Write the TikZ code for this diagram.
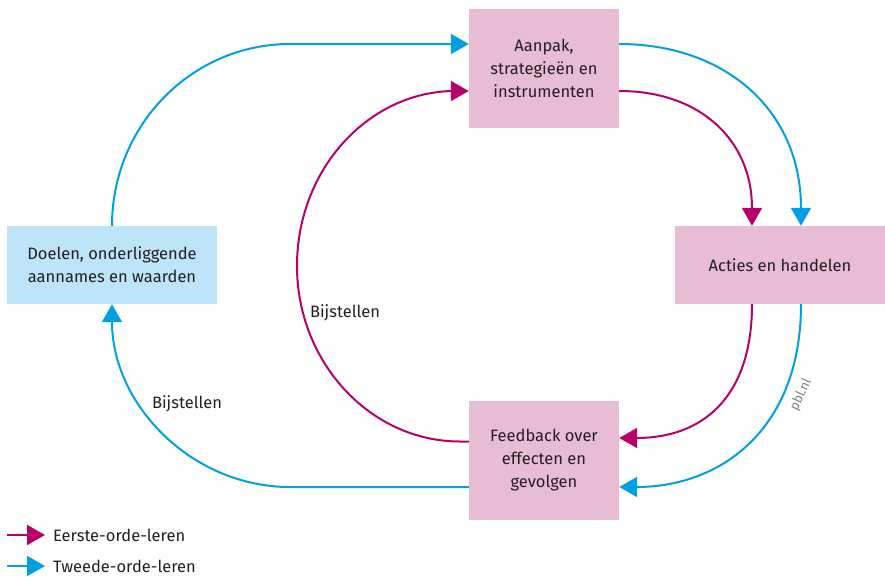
\documentclass[tikz,border=0pt]{standalone}
\usepackage{fontspec}
\setmainfont{Fira Sans}
\usetikzlibrary{arrows.meta}
\definecolor{boxpink}{HTML}{E8BCD3}
\definecolor{boxblue}{HTML}{BEE4F9}
\definecolor{lred}{HTML}{B8006B}
\definecolor{lblue}{HTML}{00A0E2}
\definecolor{txt}{HTML}{231F20}
\begin{document}
\begin{tikzpicture}[x=1pt,y=-1pt,
  box/.style={inner sep=0pt, align=center, text=txt, font=\fontsize{16.5}{23}\selectfont},
  pinkbox/.style={box, fill=boxpink, minimum width=150pt, minimum height=119pt},
  widebox/.style={box, minimum width=210pt, minimum height=78pt},
  lbl/.style={text=txt, inner sep=0pt, font=\fontsize{16.5}{18}\selectfont},
  first/.style={draw=lred, line width=2pt, -{Triangle[length=18pt,width=20pt]}},
  second/.style={draw=lblue, line width=2pt, -{Triangle[length=18pt,width=20pt]}}]
\useasboundingbox (0,0) rectangle (885,576);

\node[pinkbox] (aanpak) at (544,68.5) {Aanpak,\\strategieën en\\instrumenten};
\node[widebox, fill=boxpink] (acties) at (780,265) {Acties en handelen};
\node[pinkbox] (feedback) at (544,460.5) {Feedback over\\effecten en\\gevolgen};
\node[widebox, fill=boxblue] (doelen) at (112,265) {Doelen, onderliggende\\aannames en waarden};

% second order (blue)
\draw[second] (doelen.north) .. controls (112,125) and (192,44) .. (290,44) -- ([yshift=24.5pt]aanpak.west);
\draw[second] ([yshift=24.5pt]aanpak.east) .. controls (725,44) and (801,110) .. ([xshift=21pt]acties.north);
\draw[second] ([xshift=21pt]acties.south) .. controls (801,430) and (720,487) .. ([yshift=-26.5pt]feedback.east);
\draw[second] ([yshift=-26.5pt]feedback.west) -- (290,487) .. controls (192,487) and (112,405) .. (doelen.south);

% first order (red)
\draw[first] ([yshift=-22.5pt]aanpak.east) .. controls (700,91) and (752,140) .. ([xshift=-28pt]acties.north);
\draw[first] ([xshift=-28pt]acties.south) .. controls (752,400) and (700,438) .. ([yshift=22.5pt]feedback.east);
\draw[first] ([yshift=19pt]feedback.west) -- (460,441.5) .. controls (370,441.5) and (297,362) .. (297,266) .. controls (297,168) and (370,91) .. (455,91) -- ([yshift=-22.5pt]aanpak.west);

\node[lbl] (bij1) at (345,313) {Bijstellen};
\node[lbl] (bij2) at (187,404) {Bijstellen};
\node[rotate=65, text=gray, inner sep=0pt, font=\fontsize{13}{15}\selectfont] (pbl) at (801,395) {pbl.nl};

% legend
\coordinate (r1) at (7,535);
\coordinate (r2) at (45,535);
\draw[first] (r1) -- (r2);
\node[lbl, anchor=west] (leg1) at (53,535) {Eerste-orde-leren};
\coordinate (b1) at (7,566);
\coordinate (b2) at (45,566);
\draw[second] (b1) -- (b2);
\node[lbl, anchor=west] (leg2) at (53,566) {Tweede-orde-leren};
\end{tikzpicture}
\end{document}
